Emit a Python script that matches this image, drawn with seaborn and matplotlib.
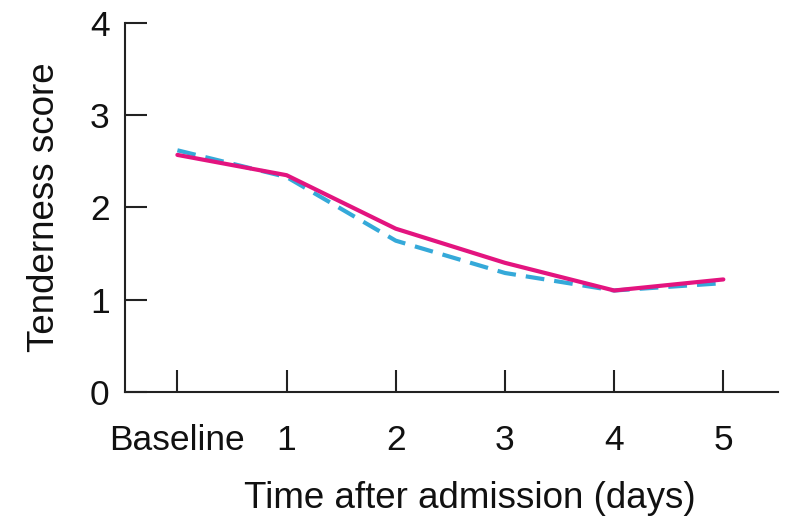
import numpy as np
import pandas as pd
import matplotlib
matplotlib.use("Agg")
import matplotlib.pyplot as plt
import seaborn as sns

# DATA
days = [0, 1, 2, 3, 4, 5]
day_labels = ["Baseline", "1", "2", "3", "4", "5"]
score_dashed = [2.62, 2.33, 1.64, 1.29, 1.10, 1.18]
score_solid = [2.57, 2.35, 1.77, 1.40, 1.10, 1.22]

df = pd.DataFrame({
    "day": days * 2,
    "score": score_dashed + score_solid,
    "group": ["dashed"] * len(days) + ["solid"] * len(days),
})

sns.set_style("ticks")
plt.rcParams['font.family'] = ['Liberation Sans', 'DejaVu Sans']

fig = plt.figure(figsize=(7.93, 5.26), dpi=100)
ax = fig.add_axes([0.1576, 0.2548, 0.8234, 0.7015])

sns.lineplot(
    data=df, x="day", y="score", hue="group", style="group",
    palette={"dashed": "#35a9d9", "solid": "#e3147f"},
    dashes={"dashed": (4.5, 2.4), "solid": ""},
    linewidth=3, legend=False, ax=ax,
)

ax.set_xlim(-0.48, 5.5)
ax.set_ylim(0, 4)
ax.set_xticks(days)
ax.set_xticklabels(day_labels)
ax.set_yticks([0, 1, 2, 3, 4])

sns.despine(ax=ax)
for side in ["left", "bottom"]:
    ax.spines[side].set_color("#222222")
    ax.spines[side].set_linewidth(1.5)

ax.tick_params(axis="both", direction="in", length=16, width=1.5,
               color="#222222", labelsize=25.5, labelcolor="#111111")
ax.tick_params(axis="x", pad=23)
ax.tick_params(axis="y", pad=11)

ax.set_xlabel("Time after admission (days)", fontsize=26.5, color="#111111")
ax.set_ylabel("Tenderness score", fontsize=26.5, color="#111111")
ax.xaxis.set_label_coords(0.528, -0.24)
ax.yaxis.set_label_coords(-0.097, 0.5)

fig.savefig("out.png", dpi=100)
